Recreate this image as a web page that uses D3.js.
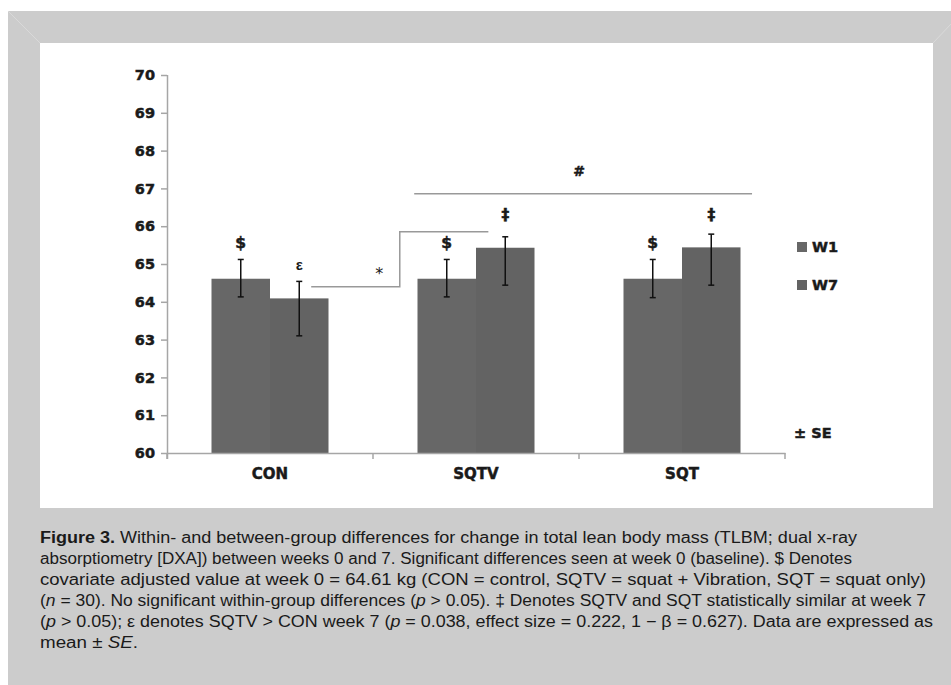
<!DOCTYPE html>
<html>
<head>
<meta charset="utf-8">
<script src="https://cdn.jsdelivr.net/npm/d3@7/dist/d3.min.js"></script>
<style>
  html, body { margin: 0; padding: 0; background: #ffffff; }
  svg { display: block; }
  .heavy { stroke: #1a1a1a; stroke-width: 0.5px; paint-order: stroke; }
</style>
</head>
<body>
<svg id="chart" width="951" height="685"></svg>
<script>
// ---------- data ----------
const categories = ["CON", "SQTV", "SQT"];
const seriesNames = ["W1", "W7"];
const w1Values = [64.61, 64.61, 64.61];
const w7Values = [64.09, 65.43, 65.44];
const w1ErrUpper = [65.12, 65.12, 65.12];
const w1ErrLower = [64.13, 64.13, 64.11];
const w7ErrUpper = [64.54, 65.72, 65.79];
const w7ErrLower = [63.10, 64.44, 64.44];
const yTicks = [60, 61, 62, 63, 64, 65, 66, 67, 68, 69, 70];
// annotation symbols: [category index, series index, value level]
const symbolMarks = [
  {t: "$", c: 0, s: 0, v: 65.55},
  {t: "ε", c: 0, s: 1, v: 65.00},
  {t: "$", c: 1, s: 0, v: 65.55},
  {t: "‡", c: 1, s: 1, v: 66.30},
  {t: "$", c: 2, s: 0, v: 65.55},
  {t: "‡", c: 2, s: 1, v: 66.30}
];
// bracket paths in (category position, value) units
const bracketStar = [[0.20, 64.40], [0.63, 64.40], [0.63, 65.85], [1.06, 65.85]];
const bracketHash = [[0.70, 66.86], [2.34, 66.86]];
const starLabel = {t: "*", p: 0.53, v: 64.75};
const hashLabel = {t: "#", p: 1.50, v: 67.45};
const captionLines = [
  [["b","Figure 3."],["n"," Within- and between-group differences for change in total lean body mass (TLBM; dual x-ray"]],
  [["n","absorptiometry [DXA]) between weeks 0 and 7. Significant differences seen at week 0 (baseline). $ Denotes"]],
  [["n","covariate adjusted value at week 0 = 64.61 kg (CON = control, SQTV = squat + Vibration, SQT = squat only)"]],
  [["n","("],["i","n"],["n"," = 30). No significant within-group differences ("],["i","p"],["n"," > 0.05). ‡ Denotes SQTV and SQT statistically similar at week 7"]],
  [["n","("],["i","p"],["n"," > 0.05); ε denotes SQTV > CON week 7 ("],["i","p"],["n"," = 0.038, effect size = 0.222, 1 − β = 0.627). Data are expressed as"]],
  [["n","mean ± "],["i","SE"],["n","."]]
];
const captionWidths = [817, 812, 886, 886, 893, 98];

// ---------- drawing ----------
const svg = d3.select("#chart");
const barColors = {W1: "#676767", W7: "#636363"};
const axisColor = "#a6a6a6";
const chartFont = "'DejaVu Sans', sans-serif";

// frame
svg.append("rect").attr("x", 8).attr("y", 11).attr("width", 943).attr("height", 674).attr("fill", "#cccccc");
svg.append("rect").attr("x", 40).attr("y", 43).attr("width", 893).attr("height", 465).attr("fill", "#ffffff");
svg.append("line").attr("x1", 8).attr("y1", 11).attr("x2", 40).attr("y2", 43).attr("stroke", "#d9d9d9").attr("stroke-width", 1);
svg.append("line").attr("x1", 951).attr("y1", 24).attr("x2", 933).attr("y2", 43).attr("stroke", "#d9d9d9").attr("stroke-width", 1);

const plotLeft = 167, plotRight = 785, plotTop = 75, plotBottom = 453;
const y = d3.scaleLinear().domain([60, 70]).range([plotBottom, plotTop]);
const x0 = d3.scaleBand().domain(categories).range([plotLeft, plotRight]).paddingInner(0).paddingOuter(0);
const groupW = 117;
const x1 = d3.scaleBand().domain(seriesNames).range([0, groupW]).padding(0);
const pos = d3.scaleLinear().domain([-0.5, categories.length - 0.5]).range([plotLeft, plotRight]);
const barX = (ci, s) => x0(categories[ci]) + (x0.bandwidth() - groupW) / 2 + x1(s);

// bars
const rows = categories.map((c, i) => ({
  c, i,
  vals: [
    {s: "W1", v: w1Values[i], hi: w1ErrUpper[i], lo: w1ErrLower[i]},
    {s: "W7", v: w7Values[i], hi: w7ErrUpper[i], lo: w7ErrLower[i]}
  ]
}));
const g = svg.append("g");
rows.forEach(r => {
  r.vals.forEach(d => {
    g.append("rect")
      .attr("x", barX(r.i, d.s))
      .attr("y", y(d.v))
      .attr("width", x1.bandwidth())
      .attr("height", y(60) - y(d.v))
      .attr("fill", barColors[d.s]);
  });
});

// axes
const yAxis = d3.axisLeft(y).tickValues(yTicks).tickSize(6).tickSizeOuter(0).tickPadding(6).tickFormat(d3.format("d"));
const ya = svg.append("g").attr("transform", `translate(${plotLeft},0)`).call(yAxis);
ya.select(".domain").attr("stroke", axisColor).attr("stroke-width", 1.5).attr("d", `M0.5,${plotTop}V${plotBottom + 6}`);
ya.selectAll(".tick line").attr("stroke", axisColor).attr("stroke-width", 1.5);
ya.selectAll(".tick text").attr("class", "heavy").attr("fill", "#1a1a1a").style("font-family", chartFont).style("font-weight", "bold").style("font-size", "14.5px");

const xAxis = d3.axisBottom(x0).tickSize(0).tickPadding(15);
const xa = svg.append("g").attr("transform", `translate(0,${plotBottom})`).call(xAxis);
xa.select(".domain").attr("stroke", axisColor).attr("stroke-width", 1.5);
xa.selectAll(".tick text").attr("class", "heavy").attr("fill", "#1a1a1a").style("font-family", chartFont).style("font-weight", "bold").style("font-size", "15px");
const boundaries = categories.map(c => x0(c)).concat([x0(categories[categories.length - 1]) + x0.bandwidth()]);
xa.selectAll(".btick").data(boundaries).enter().append("line")
  .attr("x1", d => d).attr("x2", d => d).attr("y1", 0).attr("y2", 6)
  .attr("stroke", axisColor).attr("stroke-width", 1.5);

// error bars
const eg = svg.append("g").attr("stroke", "#111").attr("stroke-width", 1.5);
rows.forEach(r => {
  r.vals.forEach(d => {
    const cx = barX(r.i, d.s) + x1.bandwidth() / 2;
    eg.append("line").attr("x1", cx).attr("x2", cx).attr("y1", y(d.hi)).attr("y2", y(d.lo));
    eg.append("line").attr("x1", cx - 3).attr("x2", cx + 3).attr("y1", y(d.hi)).attr("y2", y(d.hi));
    eg.append("line").attr("x1", cx - 3).attr("x2", cx + 3).attr("y1", y(d.lo)).attr("y2", y(d.lo));
  });
});

// symbols
symbolMarks.forEach(m => {
  svg.append("text")
    .attr("class", m.t === "ε" ? null : "heavy")
    .attr("x", barX(m.c, seriesNames[m.s]) + x1.bandwidth() / 2)
    .attr("y", y(m.v))
    .attr("text-anchor", "middle")
    .attr("dominant-baseline", "central")
    .attr("fill", "#1a1a1a")
    .style("font-family", m.t === "ε" ? "'Liberation Sans', sans-serif" : chartFont)
    .style("font-weight", "bold")
    .style("font-size", m.t === "ε" ? "15px" : "15.5px")
    .text(m.t);
});

// brackets
const line = d3.line().x(d => pos(d[0])).y(d => y(d[1]));
[bracketStar, bracketHash].forEach(b => {
  svg.append("path").attr("d", line(b)).attr("fill", "none").attr("stroke", "#999999").attr("stroke-width", 1.5);
});
[starLabel, hashLabel].forEach(l => {
  svg.append("text").attr("x", pos(l.p)).attr("y", y(l.v))
    .attr("class", l.t === "#" ? "heavy" : null)
    .attr("text-anchor", "middle").attr("dominant-baseline", "central")
    .attr("fill", "#1a1a1a").style("font-family", chartFont)
    .style("font-weight", l.t === "#" ? "bold" : "normal")
    .style("font-size", l.t === "#" ? "14px" : "16px").text(l.t);
});

// legend
const legendY = [247, 285];
seriesNames.forEach((s, i) => {
  svg.append("rect").attr("x", 797).attr("y", legendY[i] - 5).attr("width", 10).attr("height", 10).attr("fill", barColors[s]);
  svg.append("text").attr("x", 812).attr("y", legendY[i]).attr("dominant-baseline", "central").attr("class", "heavy")
    .attr("fill", "#1a1a1a").style("font-family", chartFont).style("font-weight", "bold").style("font-size", "14.5px").text(s);
});
svg.append("text").attr("x", 794).attr("y", 433).attr("dominant-baseline", "central").attr("class", "heavy")
  .attr("fill", "#1a1a1a").style("font-family", chartFont).style("font-weight", "bold").style("font-size", "14.5px").text("± SE");

// caption
captionLines.forEach((ln, i) => {
  const t = svg.append("text").attr("x", 40).attr("y", 543 + i * 21)
    .attr("fill", "#1a1a1a")
    .style("font-family", "'Liberation Sans', Arial, sans-serif").style("font-size", "16px")
    .attr("textLength", captionWidths[i]).attr("lengthAdjust", "spacingAndGlyphs");
  ln.forEach(([st, txt]) => {
    const ts = t.append("tspan").text(txt);
    if (st === "b") ts.style("font-weight", "bold");
    if (st === "i") ts.style("font-style", "italic");
  });
});
</script>
</body>
</html>
